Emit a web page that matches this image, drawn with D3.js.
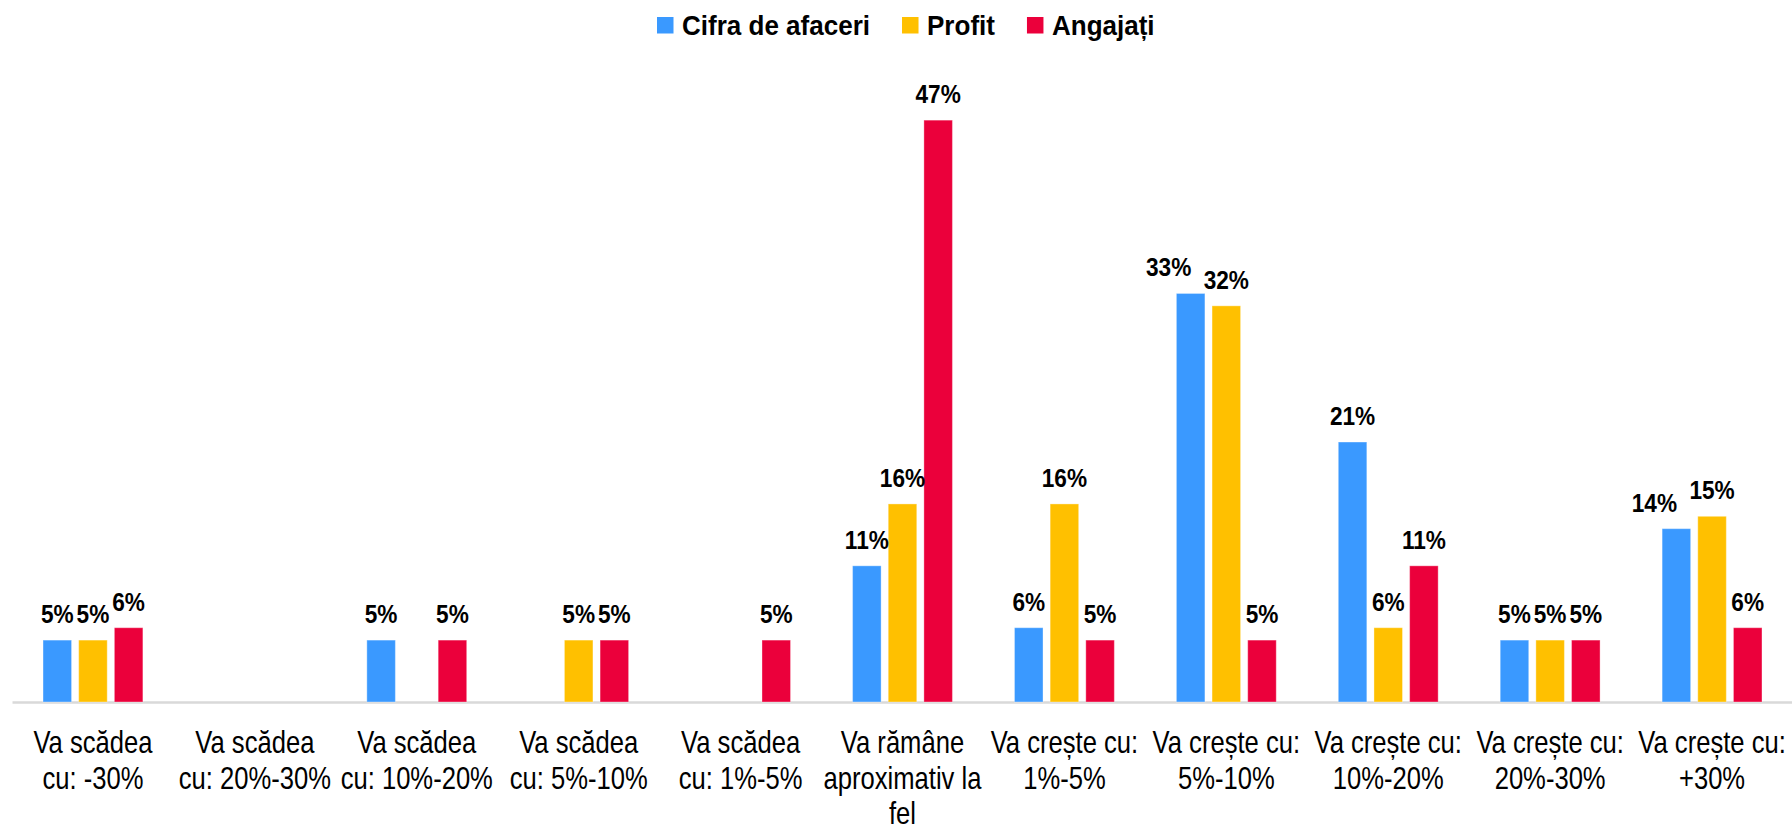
<!doctype html>
<html>
<head>
<meta charset="utf-8">
<script src="https://cdnjs.cloudflare.com/ajax/libs/d3/7.8.5/d3.min.js"></script>
<style>
  body { margin: 0; background: white; }
  svg { display: block; background: white; }
  .tick-lbl { font-family: "Liberation Sans", Arial, sans-serif; font-size: 32px; fill: #000; }
  .val { font-family: "Liberation Sans", Arial, sans-serif; font-weight: bold; font-size: 26px; fill: #000; }
  .leg { font-family: "Liberation Sans", Arial, sans-serif; font-weight: bold; font-size: 28px; fill: #000; }
</style>
</head>
<body>
<svg id="chart" width="1792" height="828"></svg>
<script>
// categories (each label split in lines like the original)
const categories = [
  ["Va scădea", "cu: -30%"],
  ["Va scădea", "cu: 20%-30%"],
  ["Va scădea", "cu: 10%-20%"],
  ["Va scădea", "cu: 5%-10%"],
  ["Va scădea", "cu: 1%-5%"],
  ["Va rămâne", "aproximativ la", "fel"],
  ["Va crește cu:", "1%-5%"],
  ["Va crește cu:", "5%-10%"],
  ["Va crește cu:", "10%-20%"],
  ["Va crește cu:", "20%-30%"],
  ["Va crește cu:", "+30%"]
];
const seriesNames = ["Cifra de afaceri", "Profit", "Angajați"];
const cifra    = [5, null, 5, null, null, 11, 6, 33, 21, 5, 14];
const profit   = [5, null, null, 5, null, 16, 16, 32, 6, 5, 15];
const angajati = [6, null, 5, 5, 5, 47, 5, 5, 11, 5, 6];
const colors = ["#3A99FF", "#FFC000", "#EB003B"];

// the original uses a condensed face; squeeze Liberation Sans to match
const narrowTick = 0.8, narrowVal = 0.87, narrowLeg = 0.93;

const svg = d3.select("#chart");
const baseY = 702;

const keys = categories.map((c, i) => i);
const x0 = d3.scaleBand().domain(keys).range([12, 1793]).padding(0);
const x1 = d3.scaleBand().domain(seriesNames).range([0, 107]).paddingInner(0.2).paddingOuter(0.1);
const y = d3.scaleLinear().domain([0, 50]).range([baseY, 83]);
const color = d3.scaleOrdinal().domain(seriesNames).range(colors);

const values = [cifra, profit, angajati];
const rows = keys.map(i => ({
  i: i,
  vals: seriesNames.map((s, k) => ({ s: s, v: values[k][i] })).filter(d => d.v != null)
}));

// axis
const axis = svg.append("g")
  .attr("transform", "translate(0," + baseY + ")")
  .call(d3.axisBottom(x0).tickSize(0).tickFormat(""));
axis.select(".domain").attr("stroke", "#D9D9D9").attr("stroke-width", 2.5);
axis.selectAll(".tick").each(function(d) {
  const t = d3.select(this).append("text")
    .attr("class", "tick-lbl")
    .attr("text-anchor", "middle")
    .attr("transform", "scale(" + narrowTick + ",1)");
  categories[d].forEach((line, j) => {
    t.append("tspan").attr("x", 0).attr("y", 51 + j * 35.7).text(line);
  });
});

// bars
const groups = svg.selectAll("g.grp")
  .data(rows)
  .enter().append("g")
  .attr("class", "grp")
  .attr("transform", d => "translate(" + (x0(d.i) + x0.bandwidth() / 2 - 53.5) + ",0)");

groups.selectAll("rect")
  .data(d => d.vals)
  .enter().append("rect")
  .attr("x", d => x1(d.s))
  .attr("y", d => y(d.v))
  .attr("width", x1.bandwidth())
  .attr("height", d => baseY - y(d.v))
  .style("fill", d => color(d.s))
  .style("stroke", "#ffffff")
  .style("stroke-opacity", 0.35)
  .style("stroke-width", "1px");

groups.each(function() {
  const labels = d3.select(this).selectAll("text.val")
    .data(d => d.vals)
    .enter().append("text")
    .attr("class", "val")
    .attr("text-anchor", "middle")
    .text(d => d.v + "%")
    .each(function(d) { d.lx = x1(d.s) + x1.bandwidth() / 2; d.ly = y(d.v) - 17; });

  // nudge a label left when it runs into its right neighbour (as Excel did)
  const ls = labels.data();
  const w = labels.nodes().map(n => n.getComputedTextLength() * narrowVal);
  for (let k = 0; k < ls.length - 1; k++) {
    const a = ls[k], b = ls[k + 1];
    const hOver = (a.lx + w[k] / 2) - (b.lx - w[k + 1] / 2);
    const vOver = Math.abs(a.ly - b.ly) < 19;
    if (hOver > 0 && vOver) a.lx -= 22;
  }
  labels.attr("transform", d => "translate(" + d.lx + "," + d.ly + ") scale(" + narrowVal + ",1)");
});

// legend
const legend = svg.append("g").attr("transform", "translate(657,0)");
let lx = 0;
seriesNames.forEach(s => {
  const item = legend.append("g").attr("transform", "translate(" + lx + ",0)");
  item.append("rect").attr("x", 0).attr("y", 17).attr("width", 16.5).attr("height", 16.5).style("fill", color(s));
  const txt = item.append("text").attr("class", "leg")
    .attr("transform", "translate(25,35) scale(" + narrowLeg + ",1)")
    .text(s);
  lx += 25 + txt.node().getComputedTextLength() * narrowLeg + 32;
});
</script>
</body>
</html>
